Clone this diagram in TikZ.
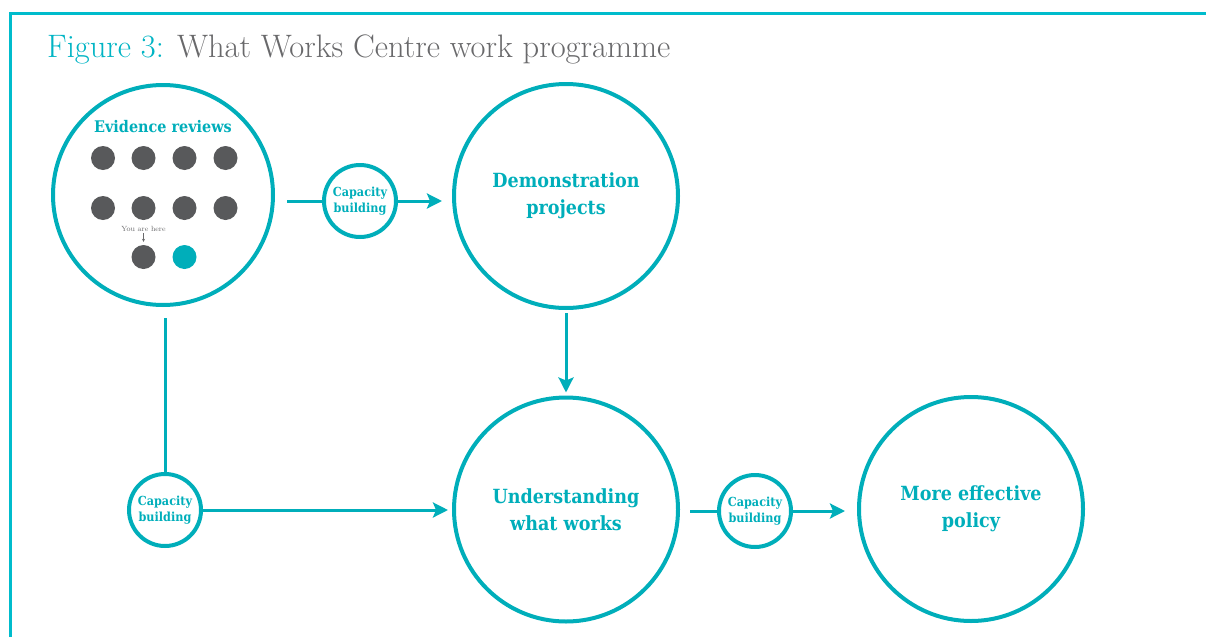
\documentclass[tikz,border=0pt]{standalone}
\usepackage{fontspec}
\usepackage{tikz}
\usetikzlibrary{arrows.meta}
\newfontfamily\slabfont{DejaVu Serif}[FakeStretch=0.9]
\definecolor{wwteal}{RGB}{0,174,186}
\definecolor{wwframe}{RGB}{0,188,204}
\definecolor{wwhead}{RGB}{0,180,196}
\definecolor{wwgrey}{RGB}{105,105,107}
\definecolor{wwdot}{RGB}{88,89,91}

\begin{document}
\begin{tikzpicture}[x=1pt,y=-1pt,
    big/.style={circle,draw=wwteal,line width=4pt,minimum size=224pt,inner sep=0pt,
        align=center,text=wwteal,font=\slabfont\bfseries\fontsize{19.5}{27}\selectfont},
    small/.style={circle,draw=wwteal,line width=4pt,minimum size=72pt,inner sep=0pt,
        align=center,text=wwteal,font=\slabfont\bfseries\fontsize{12.5}{16}\selectfont},
    dot/.style={circle,fill=wwdot,minimum size=24pt,inner sep=0pt},
    link/.style={draw=wwteal,line width=3pt},
    arrow/.style={link,-{Stealth[length=15pt,width=15pt,inset=3pt]}}]
        \useasboundingbox (0,0) rectangle (1206,637);
        \draw[wwframe,line width=3pt] (10,637) -- (10,13) -- (1206,13);
        \node[anchor=base west,inner sep=0pt,font=\fontsize{32.5}{34}\selectfont] (title) at (47,57)
            {\textcolor{wwhead}{Figure 3:} \textcolor{wwgrey}{What Works Centre work programme}};

        \node[big,minimum size=220pt] (ev) at (163,195) {};
        \node[text=wwteal,font=\slabfont\bfseries\fontsize{16}{18}\selectfont,anchor=base] (evtitle) at (163,132) {Evidence reviews};
        \foreach \x/\y [count=\i] in {103/158,143.5/158,184.5/158,225.5/158,103/208,143.5/208,184.5/208,225.5/208,143.5/257}
            \node[dot] (dot\i) at (\x,\y) {};
        \node[dot,fill=wwteal] (here) at (184.5,257) {};
        \node[text=wwgrey,font=\fontsize{7.5}{8}\selectfont,inner sep=0pt] (youhere) at (143.5,229) {You are here};
        \draw[wwgrey,line width=0.6pt,-{Stealth[length=3pt,width=3pt]}] (youhere) -- (dot9) [shorten <=1.5pt,shorten >=3pt];

        \node[big] (dem) at (566,196) {Demonstration\\projects};
        \node[big] (und) at (566,509.5) {Understanding\\what works};
        \node[big] (pol) at (971,509) {More effective\\policy};

        \node[small] (cb1) at (360,201) {Capacity\\building};
        \node[small] (cb2) at (165,510) {Capacity\\building};
        \node[small] (cb3) at (755,511) {Capacity\\building};

        \draw[link] (ev.east |- cb1.west) -- (cb1.west) [shorten <=12pt];
        \draw[arrow] (cb1.east) -- (cb1.east -| dem.west) [shorten >=10pt];
        \draw[link] (cb2.north |- ev.south) -- (cb2.north) [shorten <=11pt];
        \draw[arrow] (cb2.east) -- (cb2.east -| und.west) [shorten >=4pt];
        \draw[arrow] (dem.south) -- (und.north) [shorten <=3pt,shorten >=3pt];
        \draw[link] (und.east |- cb3.west) -- (cb3.west) [shorten <=10pt];
        \draw[arrow] (cb3.east) -- (cb3.east -| pol.west) [shorten >=12pt];
    \end{tikzpicture}
\end{document}
